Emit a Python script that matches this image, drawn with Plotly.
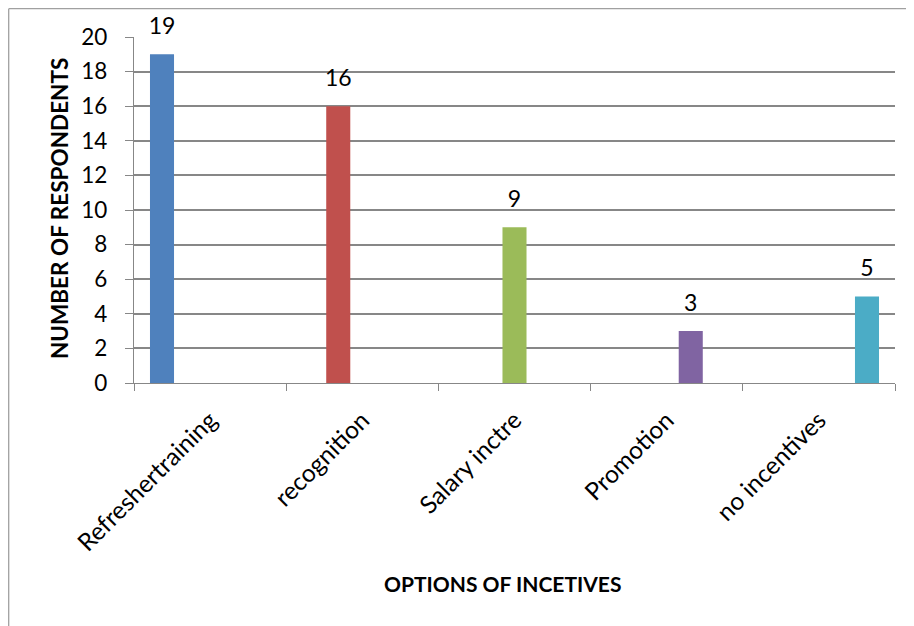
import plotly.graph_objects as go

categories = ["Refreshertraining", "recognition", "Salary inctre", "Promotion", "no incentives"]
values = [19, 16, 9, 3, 5]
colors = ["#4F81BD", "#C0504D", "#9BBB59", "#8064A2", "#4BACC6"]
y_ticks = [0, 2, 4, 6, 8, 10, 12, 14, 16, 18, 20]

FONT = "Lato"
fig = go.Figure()
for i, (cat, val, col) in enumerate(zip(categories, values, colors)):
    ys = [val if j == i else None for j in range(len(categories))]
    txt = [str(val) if j == i else "" for j in range(len(categories))]
    fig.add_trace(go.Bar(
        x=categories, y=ys, marker_color=col, marker_line_width=0,
        offsetgroup=str(i), showlegend=False, hoverinfo="skip",
    ))
    fig.add_trace(go.Scatter(
        x=categories, y=ys, mode="markers+text", text=txt,
        textposition="top center", offsetgroup=str(i),
        marker=dict(size=22, opacity=0), cliponaxis=False,
        textfont=dict(family=FONT, size=23, color="#000"),
        showlegend=False, hoverinfo="skip",
    ))

W, H = 914, 626
L, R, T, B = 126, 27, 29, 251
pw, ph = W - L - R, H - T - B

fig.update_layout(
    width=W, height=H,
    margin=dict(l=L, r=R, t=T, b=B),
    paper_bgcolor="white", plot_bgcolor="white",
    barmode="group", bargap=0.21, bargroupgap=0,
    scattermode="group", scattergap=0.21,
    font=dict(family=FONT, size=22, color="#000"),
)
fig.update_xaxes(
    type="category", tickangle=-45, tickson="boundaries",
    ticks="outside", ticklen=7, tickcolor="#878787", tickwidth=1.3,
    showline=True, linecolor="#878787", linewidth=1.3,
    showgrid=False, ticklabelstandoff=12,
    tickfont=dict(family=FONT, size=24.5, color="#000"),
)
fig.update_yaxes(
    range=[0, 20], tickvals=y_ticks, ticktext=[str(v) for v in y_ticks],
    ticks="outside", ticklen=8, tickcolor="#878787", tickwidth=1.3,
    showline=True, linecolor="#878787", linewidth=1.3,
    showgrid=True, gridcolor="#878787", gridwidth=1.5,
    zeroline=False, ticklabelstandoff=13,
    tickfont=dict(family=FONT, size=22.5, color="#000"),
)

# axis titles (positions in page px, offset by 8px body margin)
def px_x(x):
    return (x - 8 - L) / pw

def px_y(y):
    return 1 - (y - 8 - T) / ph

fig.add_annotation(
    text="<b>NUMBER OF RESPONDENTS</b>", textangle=-90,
    xref="paper", yref="paper", x=px_x(59), y=px_y(209),
    showarrow=False, font=dict(family=FONT, size=22.5, color="#000"),
    xanchor="center", yanchor="middle",
)
fig.add_annotation(
    text="<b>OPTIONS OF INCETIVES</b>",
    xref="paper", yref="paper", x=px_x(502), y=px_y(583),
    showarrow=False, font=dict(family=FONT, size=21, color="#000"),
    xanchor="center", yanchor="middle",
)

# chart frame (left and top edges visible)
fx0 = (0.7 - L) / pw
fy_top = 1 + (T - 0.7) / ph
fy_bot = -(B + 5) / ph
fx1 = (W - L + 5) / pw
fig.add_shape(type="line", xref="paper", yref="paper", x0=fx0, x1=fx0, y0=fy_bot, y1=fy_top,
              line=dict(color="#A0A0A0", width=1.3))
fig.add_shape(type="line", xref="paper", yref="paper", x0=fx0, x1=fx1, y0=fy_top, y1=fy_top,
              line=dict(color="#A0A0A0", width=1.3))

fig.write_html("out.html")
